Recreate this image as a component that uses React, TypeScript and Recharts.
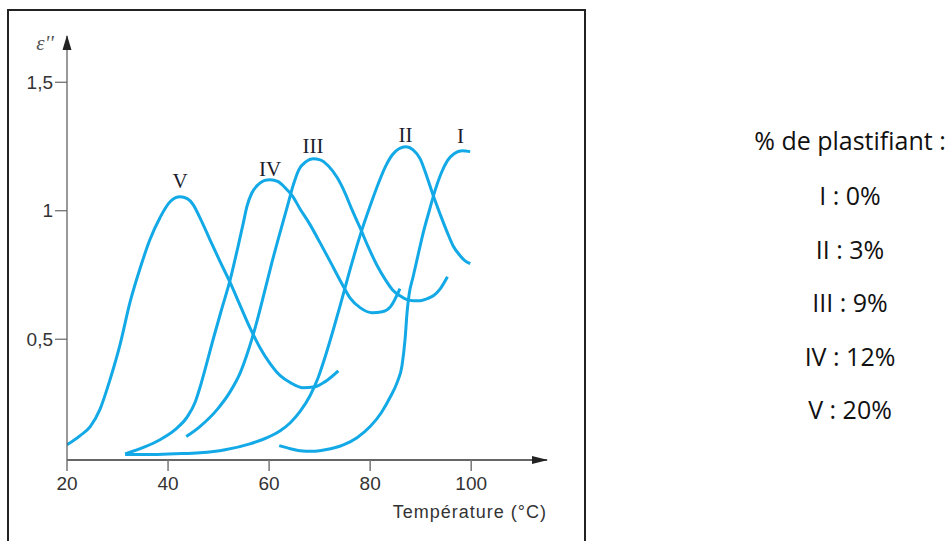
import { LineChart, Line, XAxis, YAxis, ReferenceDot } from 'recharts';

// ε'' en fonction de la température, pour 5 taux de plastifiant
const curveNames = ['I', 'II', 'III', 'IV', 'V'];
const plastifiant = [0, 3, 9, 12, 20];

const tempI = [62.0, 64.2, 66.1, 68.5, 71.1, 74.7, 77.4, 80.0, 82.2, 84.0, 85.4, 86.3, 86.9, 87.3, 87.7, 88.5, 89.5, 90.5, 91.7, 92.9, 94.1, 95.3, 96.6, 98.2, 99.8];
const epsI = [0.086, 0.074, 0.066, 0.064, 0.07, 0.089, 0.117, 0.16, 0.214, 0.276, 0.335, 0.397, 0.498, 0.603, 0.673, 0.743, 0.829, 0.914, 1.0, 1.082, 1.148, 1.195, 1.222, 1.233, 1.23];

const tempII = [31.5, 36.4, 41.4, 46.3, 51.3, 56.2, 59.6, 62.2, 64.2, 66.1, 68.1, 69.7, 71.1, 72.7, 74.1, 76.0, 78.0, 80.0, 81.6, 83.0, 84.4, 85.7, 87.1, 88.5, 89.9, 91.3, 92.5, 93.9, 95.3, 96.4, 97.8, 98.8, 99.8];
const epsII = [0.051, 0.051, 0.054, 0.058, 0.07, 0.093, 0.117, 0.144, 0.175, 0.218, 0.28, 0.35, 0.432, 0.537, 0.634, 0.77, 0.903, 1.019, 1.105, 1.171, 1.218, 1.241, 1.249, 1.237, 1.202, 1.128, 1.058, 0.984, 0.914, 0.864, 0.825, 0.805, 0.794];

const tempIII = [43.6, 46.3, 49.7, 52.3, 54.3, 55.8, 57.4, 59.0, 60.6, 62.2, 63.6, 64.8, 65.9, 67.3, 68.7, 70.1, 71.7, 73.5, 75.1, 76.4, 78.0, 79.6, 81.4, 83.0, 84.4, 85.9, 87.3, 88.5, 89.9, 91.3, 92.5, 93.9, 95.3];
const epsIII = [0.121, 0.16, 0.226, 0.296, 0.37, 0.451, 0.556, 0.677, 0.802, 0.918, 1.016, 1.101, 1.16, 1.191, 1.202, 1.198, 1.175, 1.128, 1.066, 1.004, 0.934, 0.86, 0.786, 0.732, 0.693, 0.669, 0.654, 0.65, 0.65, 0.658, 0.669, 0.697, 0.743];

const tempIV = [31.5, 35.5, 38.4, 41.4, 43.8, 45.4, 46.3, 47.3, 48.9, 50.7, 52.3, 53.7, 54.9, 55.6, 56.6, 57.8, 59.0, 60.2, 61.8, 63.2, 64.6, 66.1, 68.1, 70.1, 72.1, 74.3, 76.0, 78.0, 80.4, 82.4, 84.0, 85.9];
const epsIV = [0.054, 0.082, 0.109, 0.148, 0.198, 0.257, 0.311, 0.381, 0.498, 0.623, 0.732, 0.848, 0.953, 1.016, 1.07, 1.101, 1.117, 1.121, 1.113, 1.089, 1.058, 1.008, 0.946, 0.875, 0.802, 0.72, 0.661, 0.623, 0.603, 0.607, 0.626, 0.697];

const tempV = [20.0, 22.6, 24.6, 26.5, 28.5, 30.5, 32.5, 34.5, 36.4, 38.4, 40.4, 42.4, 43.8, 45.0, 46.3, 48.3, 50.3, 52.3, 54.3, 56.2, 58.2, 60.2, 62.2, 64.2, 66.7, 69.1, 71.1, 73.7];
const epsV = [0.089, 0.125, 0.16, 0.226, 0.342, 0.479, 0.646, 0.778, 0.887, 0.973, 1.035, 1.054, 1.047, 1.023, 0.973, 0.887, 0.802, 0.72, 0.63, 0.545, 0.467, 0.405, 0.358, 0.331, 0.311, 0.315, 0.335, 0.377];

// position des étiquettes I..V (ligne de base du texte)
const labelTemp = [97.9, 87.0, 68.7, 60.2, 42.4];
const labelEps = [1.265, 1.268, 1.226, 1.136, 1.089];

const xTicks = [20, 40, 60, 80, 100];
const yTicks = [0.5, 1, 1.5];

const BLUE = '#12a9e6';
const AXIS = '#333';

const toPoints = (t: number[], e: number[]) => t.map((v, i) => ({ t: v, e: e[i] }));

const series = [
  toPoints(tempI, epsI),
  toPoints(tempII, epsII),
  toPoints(tempIII, epsIII),
  toPoints(tempIV, epsIV),
  toPoints(tempV, epsV),
];

const tickStyle = { fontSize: 19, fill: '#333', fontFamily: '"Liberation Sans", Arial, sans-serif' };

export default function App() {
  return (
    <div style={{ position: 'absolute', left: 0, top: 0, width: 952, height: 541, background: '#fff', overflow: 'hidden' }}>
      <div
        style={{
          position: 'absolute',
          left: 7,
          top: 9,
          width: 579,
          height: 560,
          border: '2px solid #222',
          boxSizing: 'border-box',
        }}
      />
      <div style={{ position: 'absolute', left: 0, top: 0 }}>
        <LineChart width={952} height={541} margin={{ top: 36, right: 405, bottom: 23, left: 8 }}>
          <XAxis
            type="number"
            dataKey="t"
            domain={[20, 115]}
            ticks={xTicks}
            allowDataOverflow
            height={58}
            tickSize={11}
            tickMargin={6}
            tick={tickStyle}
            axisLine={{ stroke: AXIS, strokeWidth: 1.5 }}
            tickLine={{ stroke: '#777', strokeWidth: 1.5 }}
            label={{
              value: 'Température (°C)',
              position: 'insideBottomRight',
              offset: 0,
              fontSize: 18,
              fill: '#333',
              letterSpacing: 1,
              fontFamily: '"Liberation Sans", Arial, sans-serif',
            }}
          />
          <YAxis
            type="number"
            domain={[0.03, 1.68]}
            ticks={yTicks}
            allowDataOverflow
            width={59}
            tickSize={12}
            tickMargin={2}
            tick={tickStyle}
            tickFormatter={(v) => String(v).replace('.', ',')}
            axisLine={{ stroke: '#555', strokeWidth: 1.2 }}
            tickLine={{ stroke: '#666', strokeWidth: 1.2 }}
            label={{
              content: ({ viewBox }: any) => (
                <text
                  x={viewBox.x + viewBox.width - 22}
                  y={viewBox.y + 14}
                  textAnchor="middle"
                  fontSize={21}
                  fontStyle="italic"
                  fill="#555"
                  fontFamily='"Liberation Serif", "Times New Roman", serif'
                >
                  ε''
                </text>
              ),
            }}
          />
          {series.map((pts, i) => (
            <Line
              key={curveNames[i]}
              data={pts}
              dataKey="e"
              type="monotone"
              stroke={BLUE}
              strokeWidth={3}
              dot={false}
              activeDot={false}
              isAnimationActive={false}
            />
          ))}
          {curveNames.map((name, i) => (
            <ReferenceDot
              key={'lbl' + name}
              x={labelTemp[i]}
              y={labelEps[i]}
              r={0}
              ifOverflow="visible"
              shape={(p: any) => (
                <text
                  x={p.cx}
                  y={p.cy}
                  textAnchor="middle"
                  fontSize={21}
                  fill="#1c1c2e"
                  fontFamily='"Liberation Serif", "Times New Roman", serif'
                >
                  {name}
                </text>
              )}
            />
          ))}
          {/* flèches des axes */}
          <ReferenceDot
            x={115}
            y={0.03}
            r={0}
            ifOverflow="visible"
            shape={(p: any) => (
              <polygon
                points={`${p.cx + 1},${p.cy} ${p.cx - 15},${p.cy - 4} ${p.cx - 15},${p.cy + 4}`}
                fill="#222"
              />
            )}
          />
          <ReferenceDot
            x={20}
            y={1.68}
            r={0}
            ifOverflow="visible"
            shape={(p: any) => (
              <polygon
                points={`${p.cx},${p.cy - 1} ${p.cx - 4.5},${p.cy + 14} ${p.cx + 4.5},${p.cy + 14}`}
                fill="#222"
              />
            )}
          />
        </LineChart>
      </div>
      <svg width={952} height={541} style={{ position: 'absolute', left: 0, top: 0, pointerEvents: 'none' }}>
        <g fontFamily='"Open Sans", "Noto Sans", sans-serif' fontSize={25} fill="#111" textAnchor="middle">
          <text x={850} y={150}>% de plastifiant :</text>
          {curveNames.map((name, i) => (
            <text key={name} x={850} y={205 + i * 53.5}>
              {name} : {plastifiant[i]}%
            </text>
          ))}
        </g>
      </svg>
    </div>
  );
}
